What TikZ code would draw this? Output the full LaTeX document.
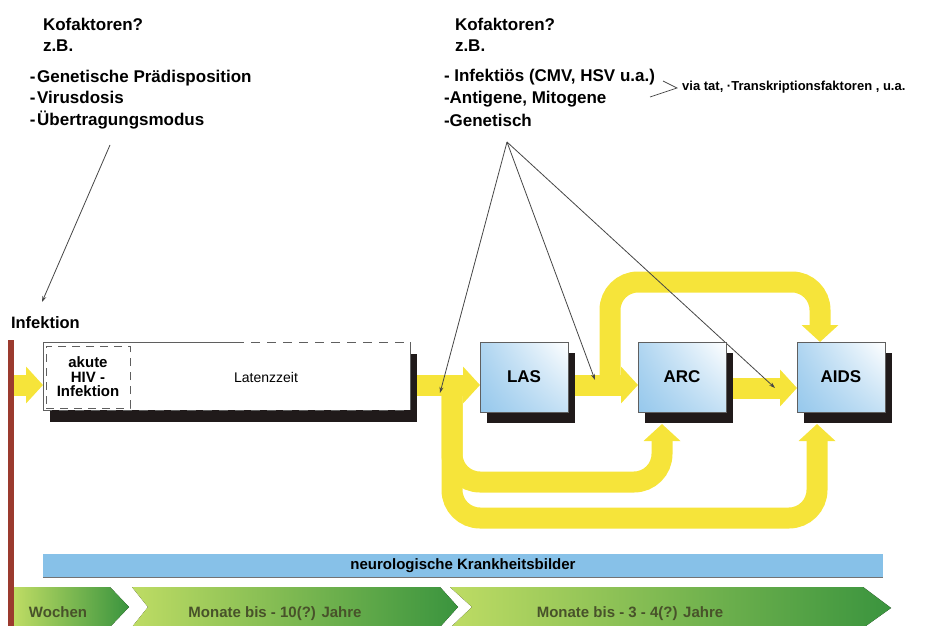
\documentclass[tikz,border=0pt]{standalone}
\usepackage{fontspec}
\setmainfont{Liberation Sans}
\usetikzlibrary{arrows.meta,shadows,shadings}
\definecolor{pipec}{RGB}{246,228,58}
\definecolor{skyb}{RGB}{150,200,236}
\definecolor{barblue}{RGB}{135,193,232}
\definecolor{redbar}{RGB}{155,58,46}
\definecolor{gtext}{RGB}{72,82,42}
\definecolor{glight}{RGB}{190,220,100}
\definecolor{gdark}{RGB}{58,148,62}
\definecolor{shadowc}{RGB}{32,26,26}
\definecolor{edgec}{RGB}{95,95,95}
\definecolor{linec}{RGB}{70,70,70}
\begin{document}
\begin{tikzpicture}[x=1pt,y=-1pt,
  txt/.style={anchor=base west, inner sep=0pt, outer sep=0pt, font=\fontsize{17}{20}\selectfont\bfseries},
  pipe/.style={draw=pipec, line width=21pt, rounded corners=28pt},
  ptip/.style={-{Triangle[length=17pt,width=36pt]}},
  thinarr/.style={draw=linec, line width=0.8pt, -{Stealth[length=6pt,width=4pt]}},
  stagebox/.style={rectangle, inner sep=0pt, outer sep=0pt, minimum width=88pt, minimum height=70pt,
    draw=edgec, line width=0.8pt, font=\fontsize{17}{20}\selectfont\bfseries,
    drop shadow={shadow xshift=7pt, shadow yshift=-11pt, opacity=1, fill=shadowc},
    shade, upper left=skyb!75, upper right=white, lower left=skyb, lower right=skyb!55},
  chev/.style={left color=glight, right color=gdark},
  chevtxt/.style={anchor=base, inner sep=0pt, text=gtext, font=\fontsize{15}{18}\selectfont\bfseries}
]
\useasboundingbox (0,0) rectangle (927,626);

% ---------- upper left text ----------
\node[txt] (kl1) at (43,30.5) {Kofaktoren?};
\node[txt] (kl2) at (43,51.5) {z.B.};
\node[txt] (kl3) at (30,82.5) {-\hspace{1.5pt}Genetische Prädisposition};
\node[txt] (kl4) at (30,103) {-\hspace{1.5pt}Virusdosis};
\node[txt] (kl5) at (30,125) {-\hspace{1.5pt}Übertragungsmodus};

% ---------- upper right text ----------
\node[txt] (kr1) at (455,30.5) {Kofaktoren?};
\node[txt] (kr2) at (455,51.5) {z.B.};
\node[txt] (kr3) at (444,81.5) {- Infektiös (CMV, HSV u.a.)};
\node[txt] (kr4) at (444,103) {-Antigene, Mitogene};
\node[txt] (kr5) at (444,126.5) {-Genetisch};
\node[anchor=base west, inner sep=0pt, font=\fontsize{13}{15}\selectfont\bfseries] (via) at (682,91)
  {via tat, ·Transkriptionsfaktoren , u.a.};
\coordinate (ga) at (663,81);
\coordinate (gv) at (677,88);
\coordinate (gb) at (650,97);
\draw[linec, line width=0.7pt] (ga) -- (gv) -- (gb);

% ---------- Infektion ----------
\node[txt, font=\fontsize{16.5}{20}\selectfont\bfseries] (inf) at (11,328) {Infektion};
\fill[redbar] (8,340) rectangle (14,626);
\coordinate (rb) at (14,385);

% ---------- yellow pipes ----------
\coordinate (jn) at (452,385);
\coordinate (lasout) at (568,385);
\coordinate (split) at (610,385);
\draw[pipe,ptip] (jn) -- (452,518) -- (817,518) -- (817,424);
\draw[pipe,ptip] (jn) -- (452,482) -- (662,482) -- (662,424);
\draw[pipe,ptip] (split) -- (610,282) -- (820,282) -- (820,342);
\draw[pipe,ptip] (rb) -- (43,385);
\draw[pipe,ptip] (410,385) -- (480,385);
\draw[pipe,ptip] (lasout) -- (638,385);
\draw[pipe,ptip] (726,388) -- (797,388);

% ---------- thin cofactor lines ----------
\coordinate (apL) at (110,145);
\coordinate (tgL) at (42,302);
\draw[thinarr] (apL) -- (tgL);
\coordinate (apex) at (507,142);
\coordinate (t1) at (440,393);
\coordinate (t2) at (595,380);
\coordinate (t3) at (775,388);
\draw[thinarr] (apex) -- (t1);
\draw[thinarr] (apex) -- (t2);
\draw[thinarr] (apex) -- (t3);

% ---------- latency box ----------
\node[rectangle, inner sep=0pt, outer sep=0pt, minimum width=367pt, minimum height=68pt, fill=white,
  drop shadow={shadow xshift=7pt, shadow yshift=-12pt, opacity=1, fill=shadowc}] (lat) at (226.5,376) {};
\draw[edgec, line width=0.9pt] (lat.north west) -- (lat.south west);
\draw[edgec, line width=0.9pt] (lat.north east) -- (lat.south east);
\draw[edgec, line width=0.9pt] (lat.north west) -- ([xshift=192pt]lat.north west);
\draw[edgec, line width=0.9pt, dash pattern=on 9pt off 7pt] ([xshift=192pt]lat.north west) -- (lat.north east);
\draw[edgec, line width=0.9pt, dash pattern=on 9pt off 7pt] (lat.south west) -- (lat.south east);
\node[rectangle, inner sep=0pt, minimum width=84pt, minimum height=62pt, draw=edgec, line width=0.9pt,
  dash pattern=on 8pt off 6pt, align=center, font=\fontsize{15}{14.5}\selectfont\bfseries] (ak) at (88,377)
  {akute\\HIV -\\Infektion};
\node[anchor=base, inner sep=0pt, font=\fontsize{14}{17}\selectfont] (lattxt) at (266,382) {Latenzzeit};

% ---------- stage boxes ----------
\node[stagebox] (las) at (524,377) {LAS};
\node[stagebox] (arc) at (682,377) {ARC};
\node[stagebox] (aids) at (841,377) {AIDS};

% ---------- neurological bar ----------
\node[rectangle, inner sep=0pt, minimum width=840pt, minimum height=23pt, fill=barblue,
  font=\fontsize{15}{18}\selectfont\bfseries] (neuro) at (463,565.5) {neurologische Krankheitsbilder};
\draw[black!55, line width=1.2pt] (neuro.south west) -- (neuro.south east);

% ---------- time chevrons ----------
\fill[chev] (14,587) -- (110,587) -- (129,607) -- (110,627) -- (14,627) -- cycle;
\fill[chev] (132,587) -- (440,587) -- (458,607) -- (440,627) -- (132,627) -- (148,607) -- cycle;
\fill[chev] (450,587) -- (863,587) -- (891,608) -- (863,628) -- (450,628) -- (472,607) -- cycle;
\node[chevtxt] (woc) at (58,617) {Wochen};
\node[chevtxt] (mon1) at (275,617) {Monate bis - 10(?) Jahre};
\node[chevtxt] (mon2) at (630,617) {Monate bis - 3 - 4(?) Jahre};
\end{tikzpicture}
\end{document}
